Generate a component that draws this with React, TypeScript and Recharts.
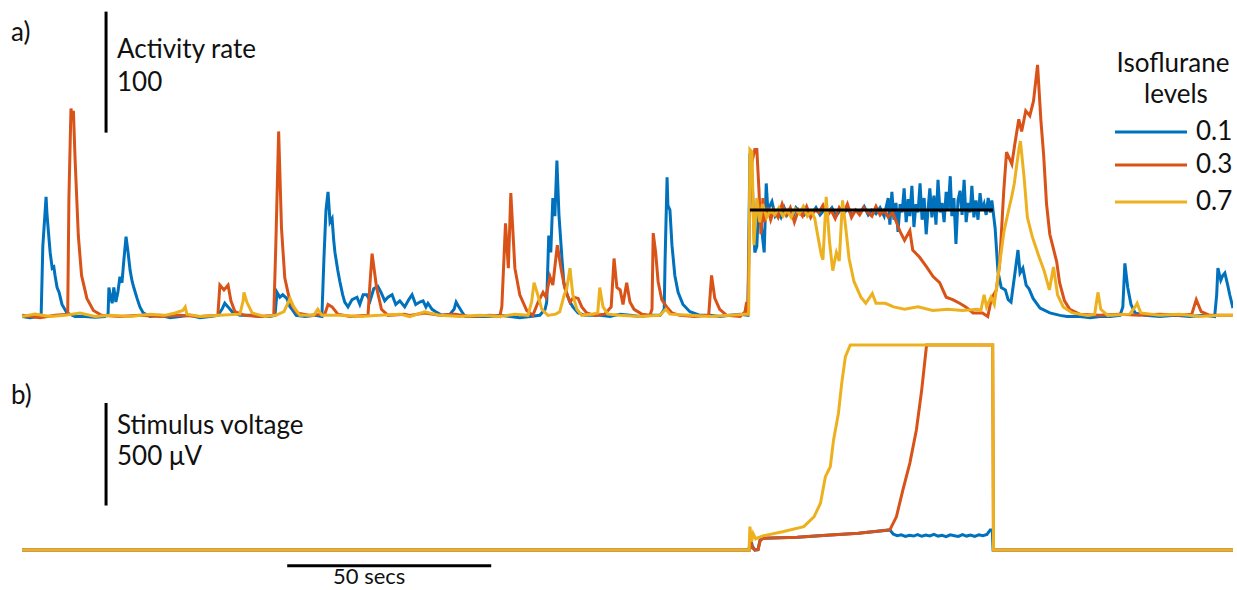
import { LineChart, Line, XAxis, YAxis, ReferenceLine } from 'recharts'

// colours as in MATLAB's default order
const COLORS = { low: '#0072BD', mid: '#D95319', high: '#EDB120' }

const LEVELS = ['0.1', '0.3', '0.7']
const T_MAX = 296.8
const STIM_ON = 178.4
const STIM_OFF = 238
const STIM_TARGET = 90

// a) activity rate, [time s, rate]
const BLUE_A: [number, number][] = [
  [0, 2], [2, 1], [3.9, 2], [4.7, 4], [5.1, 60], [5.9, 101], [6.1, 88], [6.4, 75], [6.9, 55], [7.4, 42], [7.8, 43], [8.1, 36],
  [8.6, 26], [9.1, 22], [9.8, 12], [11, 5], [13, 2], [15.4, 2], [17.9, 1.5], [20.3, 2], [21.1, 4], [21.3, 26], [21.6, 20],
  [22.1, 13], [22.5, 26], [23, 14], [23.5, 22], [24, 35], [24.5, 30], [25, 50], [25.5, 68], [26, 55], [26.5, 40], [27, 31],
  [27.4, 26], [28.2, 17], [28.9, 10], [29.7, 5], [31.4, 2], [33.8, 3], [36.3, 1], [38.7, 2], [41.2, 3], [43.6, 1], [46.1, 2],
  [48, 3], [49, 8], [49.7, 13], [50.5, 10], [51.5, 6], [53.4, 3], [55.9, 3], [58.3, 2], [60.8, 2], [62, 3], [62.5, 22],
  [63.2, 18], [63.9, 20], [64.9, 17], [65.7, 10], [66.2, 8], [67.2, 3], [69.4, 2], [71.8, 3], [73.5, 2], [74, 50], [74.5, 90],
  [75, 105], [75.5, 80], [76, 83], [76.4, 65], [76.7, 55], [77.4, 40], [77.9, 31], [78.6, 20], [79.1, 14], [79.9, 10],
  [80.9, 16], [82.1, 18], [82.8, 12], [83.6, 20], [84.5, 20], [85.3, 15], [86.2, 25], [87.2, 27], [88, 22], [88.9, 15],
  [89.7, 18], [90.7, 20], [91.6, 12], [92.6, 15], [93.8, 10], [94.8, 16], [95.6, 20], [96.5, 12], [97.5, 14], [98.3, 15],
  [99, 10], [99.5, 13], [100.5, 8], [101.4, 6], [102.9, 3], [104.9, 4], [105.9, 8], [106.4, 14], [106.9, 11], [107.8, 6],
  [108.6, 2], [112.3, 2], [114.7, 2], [117.2, 3], [119.6, 2], [122, 1], [124.5, 2], [126.9, 3], [128.2, 8], [128.6, 14],
  [129.1, 69], [129.6, 55], [130.1, 100], [130.6, 85], [131.1, 131], [131.6, 86], [132.4, 47], [132.8, 30], [133.6, 20],
  [134.3, 14], [135, 10], [136.3, 5], [138, 3], [141.7, 3], [144.1, 2], [146.6, 4], [149, 3], [151.5, 2], [153.9, 3],
  [156.4, 3], [157.4, 8], [157.6, 47], [158.1, 117], [158.3, 94], [158.8, 90], [159.3, 61], [160, 36], [160.8, 22], [162, 12],
  [163.7, 6], [166.2, 3], [168.6, 3], [171.1, 2], [173.5, 3], [176, 4], [177.9, 3],
  [178.4, 137], [178.9, 120], [179.6, 55], [180.1, 60], [180.6, 100], [181.1, 80], [181.9, 55], [182.4, 112], [182.8, 90],
  [183.8, 97], [184.6, 85], [185.3, 88], [186, 84], [186.8, 92], [187.5, 86], [188.2, 90], [189, 85], [189.7, 92], [190.7, 88],
  [191.7, 86], [192.6, 90], [193.6, 87], [194.6, 92], [195.6, 86], [196.6, 90], [197.5, 88], [198.5, 92], [199.5, 85],
  [200.5, 90], [201.5, 88], [202.4, 91], [203.4, 86], [204.4, 90], [205.4, 88], [206.4, 93], [207.4, 86], [208.3, 90],
  [209.3, 87], [210.3, 92], [211.3, 85], [212.3, 100], [212.7, 78], [213.2, 105], [213.7, 82], [214.2, 96], [214.7, 72],
  [215.2, 95], [215.7, 88], [216.2, 108], [216.7, 80], [217.2, 99], [217.6, 85], [218.1, 110], [218.6, 76], [219.1, 95],
  [219.6, 88], [220.1, 112], [220.6, 82], [221.1, 100], [221.6, 70], [222.1, 92], [222.5, 108], [223, 84], [223.5, 102],
  [224, 78], [224.5, 115], [225, 88], [225.5, 96], [226, 80], [226.5, 105], [227, 90], [227.5, 118], [227.9, 85], [228.4, 100],
  [228.9, 62], [229.4, 98], [229.9, 106], [230.4, 86], [230.9, 115], [231.4, 80], [231.9, 96], [232.4, 88], [232.8, 110],
  [233.3, 84], [233.8, 98], [234.3, 82], [234.8, 104], [235.3, 90], [235.8, 95], [236.3, 86], [236.8, 100], [237.3, 88],
  [237.7, 98], [238.5, 75], [239.2, 39], [240, 26], [241, 24], [241.7, 16], [242.4, 14], [243.4, 39], [244.1, 57], [244.6, 38],
  [245.3, 42], [246.1, 28], [246.8, 25], [247.8, 17], [249.5, 9], [251.9, 5], [254.4, 3], [256.1, 2], [259.3, 2], [261.8, 1],
  [264.2, 2], [266.7, 2], [269.1, 3], [269.8, 10], [270.3, 46], [271, 26], [271.8, 12], [272.8, 5], [275.2, 3], [278.9, 2],
  [282.6, 3], [286.2, 2], [289.9, 3], [292.3, 2], [292.8, 20], [293.1, 42], [293.8, 32], [294.3, 36], [294.8, 38], [295.5, 28],
  [296, 20], [296.8, 9],
]

const ORANGE_A: [number, number][] = [
  [0, 3], [4.4, 1], [8.1, 3], [11.2, 4], [11.5, 100], [12, 174], [12.4, 165], [12.6, 172], [13, 133], [13.8, 69], [14.6, 36],
  [15.9, 17], [17.5, 7], [19.5, 3], [24, 2], [28.9, 3], [33.8, 2], [38.7, 3], [43.6, 2], [48, 3], [48.5, 28], [49.5, 24],
  [50.5, 28], [51.2, 15], [52.2, 6], [54.6, 3], [58.3, 2], [61.7, 3], [62.2, 60], [62.9, 155], [63.6, 75], [64.4, 34],
  [65.7, 14], [67.4, 5], [70.6, 3], [74.2, 4], [75, 12], [76, 10], [77.4, 4], [80.4, 2], [84.8, 3], [85.3, 30], [85.8, 54],
  [86.9, 26], [88.1, 8], [89.7, 3], [93.8, 4], [95, 3], [98.7, 5], [102.4, 3], [106.1, 4], [109.8, 2], [114.7, 3], [117.1, 2],
  [117.6, 10], [118.5, 79], [119.2, 42], [119.8, 104], [120.8, 42], [122, 20], [123.7, 7], [125.2, 3], [126.5, 14],
  [127.7, 22], [128.4, 18], [129.4, 35], [130.1, 28], [131.2, 61], [132.1, 42], [133, 26], [134.3, 14], [135.2, 18],
  [136.3, 17], [137.2, 10], [138.4, 5], [140.4, 3], [142.8, 4], [144.4, 10], [145.1, 50], [145.8, 26], [146.6, 24],
  [147.3, 12], [148.2, 30], [149, 14], [150, 8], [151.9, 4], [153.9, 3], [154.4, 8], [154.7, 71], [155.3, 55], [155.9, 31],
  [156.8, 16], [158, 10], [159.3, 5], [161.2, 3], [164.9, 2], [168.3, 3], [169, 36], [169.8, 17], [171, 8], [172.7, 3],
  [176, 2], [177.2, 6], [177.6, 14], [177.9, 4],
  [178.4, 100], [178.9, 130], [179.6, 140], [180.1, 140], [180.6, 108], [181.1, 70], [181.6, 100], [182, 80], [182.8, 92],
  [183.5, 82], [184.3, 90], [185.3, 84], [186.3, 95], [187.3, 86], [188.3, 92], [189.3, 80], [190.3, 90], [191.3, 85],
  [192.3, 93], [193.3, 84], [194.3, 90], [195.3, 88], [196.3, 94], [197.3, 85], [198.3, 90], [199.3, 83], [200.3, 92],
  [201.3, 87], [202.3, 95], [203.3, 84], [204.3, 90], [205.3, 86], [206.3, 92], [207.3, 88], [208.3, 85], [209.3, 93],
  [210.3, 86], [211.3, 90], [212.3, 84], [213.4, 88], [215.1, 73], [216.3, 65], [217.6, 73], [218.3, 57], [220, 51],
  [221.7, 43], [223.3, 35], [224.9, 30], [226.5, 18], [228.1, 16], [229.8, 13], [231.3, 10], [233.1, 5], [235.4, 5],
  [236.7, 2], [237.6, 17], [238.8, 24], [239.6, 45], [240.6, 105], [241.3, 138], [242.6, 128], [243.3, 144], [244.3, 165],
  [245, 155], [246, 172], [247, 168], [247.9, 180], [248.9, 210], [249.7, 165], [250.4, 135], [251.1, 95], [251.9, 70],
  [252.8, 58], [253.6, 47], [254.3, 30], [255.5, 15], [256.8, 8], [259.2, 4], [264.1, 3], [269, 4], [273.9, 3], [278.8, 4],
  [283.7, 3], [286.7, 4], [287.8, 16], [289, 6], [291.1, 3], [296.8, 3],
]

const YELLOW_A: [number, number][] = [
  [0, 2], [3.2, 4], [6.9, 2], [10.5, 3], [14.2, 5], [17.9, 2], [21.6, 3], [26.5, 2], [31.4, 4], [35, 3], [37.5, 5], [39.4, 7],
  [40, 10], [40.4, 4], [43.6, 2], [48.5, 3], [53.4, 4], [54.2, 15], [54.4, 22], [55.1, 14], [56.4, 5], [59.5, 2], [62.2, 3],
  [64.2, 6], [65.7, 17], [66.6, 10], [68.1, 3], [71.5, 3], [72.5, 8], [73.5, 3], [77.9, 3], [82.8, 2], [87.7, 3], [92.6, 4],
  [95, 2], [98.7, 6], [102.4, 3], [107.3, 2], [112.2, 3], [117.1, 2], [120.8, 4], [124, 3], [124.9, 14], [125.5, 30],
  [126.4, 20], [127.4, 8], [128.9, 3], [130.8, 4], [131.8, 6], [132.9, 20], [133.5, 25], [134.3, 42], [135, 20], [136, 8],
  [137.2, 3], [139.7, 4], [141.1, 5], [141.6, 26], [142.4, 10], [143.6, 4], [146.5, 3], [151.4, 2], [156.3, 3], [157.8, 8],
  [158.8, 4], [163.7, 3], [168.6, 2], [173.5, 3], [177.2, 4], [178.1, 4],
  [178.4, 140], [178.9, 138], [179.4, 61], [180.1, 100], [180.8, 80], [181.5, 95], [182.5, 84], [183.5, 90], [184.5, 86],
  [185.5, 92], [186.5, 85], [187.5, 90], [188.5, 84], [189.5, 91], [190.5, 87], [191.5, 93], [192.5, 85], [193.5, 89],
  [194.3, 83], [194.7, 75], [195.9, 53], [196.3, 49], [197.1, 101], [197.9, 64], [198.7, 40], [199.6, 55], [200.3, 48],
  [201.1, 98], [201.9, 75], [202.7, 50], [203.9, 31], [205.6, 18], [206.8, 13], [208.4, 21], [209.3, 13], [211.6, 13],
  [213.6, 10], [216.3, 8], [219.6, 10], [223.2, 7], [226.9, 8], [230.5, 7], [234.2, 8], [235, 7], [235.8, 20], [236.4, 10],
  [237.5, 18], [238.3, 12], [239.5, 43], [240.7, 73], [242, 93], [242.5, 100], [243.2, 112], [243.7, 125], [244.4, 142],
  [244.7, 147], [245.6, 117], [246.4, 84], [247.6, 68], [249.3, 51], [250.5, 40], [251.8, 24], [252.8, 43], [253.8, 20],
  [255.2, 10], [257.4, 5], [261.2, 3], [262.9, 4], [263.7, 22], [264.4, 8], [266.1, 3], [271.5, 4], [272.8, 10], [273.3, 13],
  [274.2, 5], [278.8, 3], [283.7, 4], [288.6, 2], [293.5, 3], [296.8, 3],
]

// b) stimulus voltage, [time s, µV]
const BLUE_B: [number, number][] = [
  [0, 0], [178.2, 0], [178.5, 60], [179, 20], [179.6, 0], [180.4, 2], [180.9, 50], [181.6, 57], [190, 62], [197.2, 72],
  [205, 82], [212.7, 98], [213.5, 78], [214.5, 70], [215.5, 74], [216.5, 66], [217.5, 72], [218.5, 68], [219.5, 75],
  [220.5, 67], [221.5, 73], [222.5, 69], [223.5, 76], [224.5, 68], [225.5, 72], [226.5, 65], [227.5, 74], [228.5, 70],
  [229.5, 66], [230.5, 75], [231.5, 68], [232.5, 73], [233.5, 66], [234.5, 74], [235.5, 70], [236.5, 76], [237.3, 98],
  [237.8, 98], [238, 0], [296.8, 0],
]
const ORANGE_B: [number, number][] = [
  [0, 0], [178.2, 0], [178.5, 50], [179, 10], [179.6, 0], [180.4, 2], [180.9, 45], [181.6, 57], [190, 62], [197.2, 72],
  [205, 82], [212.7, 98], [214.3, 162], [215.9, 293], [217.6, 424], [219.2, 585], [220.5, 780], [221.7, 1000],
  [237.9, 1000], [238.1, 0], [296.8, 0],
]
const YELLOW_B: [number, number][] = [
  [0, 0], [178.2, 0], [178.4, 114], [178.8, 40], [179.2, 80], [179.8, 55], [181.6, 69], [186.4, 89], [191.6, 114],
  [194.1, 162], [195.7, 228], [196.9, 358], [198.1, 406], [198.9, 537], [200.1, 667], [200.9, 813], [201.8, 943],
  [203, 1000], [237.9, 1000], [238.1, 0], [296.8, 0],
]

const toRows = (pts: [number, number][]) => pts.map(([t, v]) => ({ t, v }))

const SERIES_A = [
  { name: LEVELS[0], data: toRows(BLUE_A), color: COLORS.low },
  { name: LEVELS[1], data: toRows(ORANGE_A), color: COLORS.mid },
  { name: LEVELS[2], data: toRows(YELLOW_A), color: COLORS.high },
]
const SERIES_B = [
  { name: LEVELS[0], data: toRows(BLUE_B), color: COLORS.low },
  { name: LEVELS[1], data: toRows(ORANGE_B), color: COLORS.mid },
  { name: LEVELS[2], data: toRows(YELLOW_B), color: COLORS.high },
]

const FONT = 'Lato, "Open Sans", sans-serif'
const W = 1237

export default function App() {
  const legendY = [132, 165, 202]
  return (
    <div style={{ position: 'absolute', left: 0, top: 0, width: W, height: 590, background: '#fff', overflow: 'hidden' }}>
      {/* a) activity */}
      <div style={{ position: 'absolute', left: 0, top: 0 }}>
        <LineChart width={W} height={330} margin={{ top: 0, right: 4, bottom: 0, left: 22 }}>
          <XAxis dataKey="t" type="number" domain={[0, T_MAX]} hide allowDataOverflow />
          <YAxis type="number" domain={[-9.1, 263.6]} hide allowDataOverflow />
          {SERIES_A.map(s => (
            <Line key={s.name} data={s.data} dataKey="v" name={s.name} type="linear" stroke={s.color}
              strokeWidth={3} dot={false} activeDot={false} isAnimationActive={false} />
          ))}
          <ReferenceLine segment={[{ x: STIM_ON, y: STIM_TARGET }, { x: STIM_OFF, y: STIM_TARGET }]}
            stroke="#000" strokeWidth={3} ifOverflow="visible" />
          <ReferenceLine segment={[{ x: 20.6, y: 154 }, { x: 20.6, y: 254 }]} stroke="#000" strokeWidth={3} ifOverflow="visible" />
        </LineChart>
      </div>

      {/* b) stimulus */}
      <div style={{ position: 'absolute', left: 0, top: 330 }}>
        <LineChart width={W} height={260} margin={{ top: 0, right: 4, bottom: 0, left: 22 }}>
          <XAxis dataKey="t" type="number" domain={[0, T_MAX]} hide allowDataOverflow />
          <YAxis type="number" domain={[-195, 1073]} hide allowDataOverflow />
          {SERIES_B.map(s => (
            <Line key={s.name} data={s.data} dataKey="v" name={s.name} type="linear" stroke={s.color}
              strokeWidth={3} dot={false} activeDot={false} isAnimationActive={false} />
          ))}
          <ReferenceLine segment={[{ x: 20.6, y: 217 }, { x: 20.6, y: 717 }]} stroke="#000" strokeWidth={3} ifOverflow="visible" />
          <ReferenceLine segment={[{ x: 65, y: -77 }, { x: 115, y: -77 }]} stroke="#000" strokeWidth={3} ifOverflow="visible" />
        </LineChart>
      </div>

      {/* labels and legend */}
      <svg width={W} height={590} style={{ position: 'absolute', left: 0, top: 0, pointerEvents: 'none' }}
        fontFamily={FONT} fontSize={26} fill="#111">
        <text x={11} y={41}>a)</text>
        <text x={117} y={58}>Activity rate</text>
        <text x={117} y={91}>100</text>
        <text x={11} y={404}>b)</text>
        <text x={117} y={434}>Stimulus voltage</text>
        <text x={117} y={465}>500 μV</text>
        <text x={333} y={584} fontSize={22}>50 secs</text>

        <text x={1173} y={72} textAnchor="middle">Isoflurane</text>
        <text x={1176} y={103} textAnchor="middle">levels</text>
        {SERIES_A.map((s, i) => (
          <g key={s.name}>
            <line x1={1115} x2={1187} y1={legendY[i]} y2={legendY[i]} stroke={s.color} strokeWidth={3} />
            <text x={1196} y={legendY[i] + 8}>{s.name}</text>
          </g>
        ))}
      </svg>
    </div>
  )
}
